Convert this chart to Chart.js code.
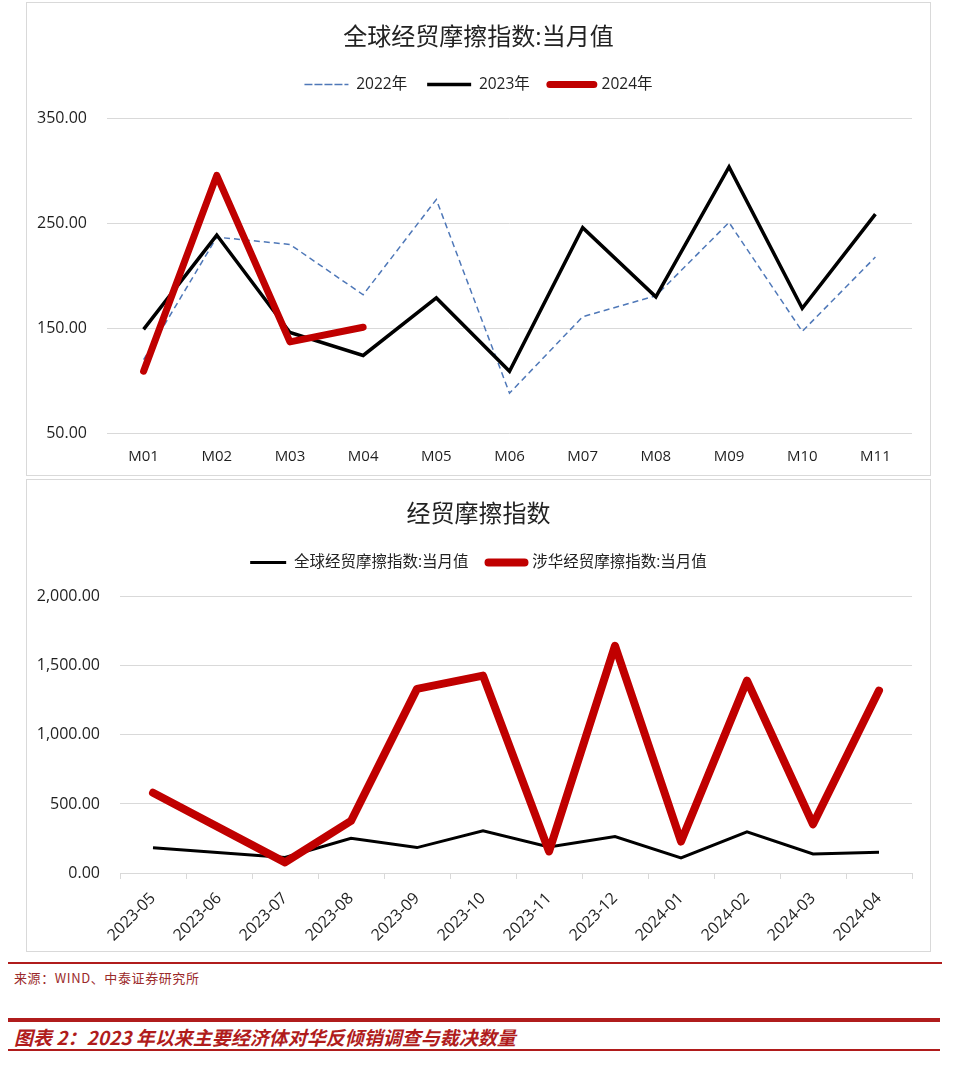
<!DOCTYPE html>
<html>
<head>
<meta charset="utf-8">
<script src="https://cdn.jsdelivr.net/npm/chart.js@4.4.1/dist/chart.umd.min.js"></script>
<style>
  body { margin: 0; background: #fff; width: 969px; height: 1065px; position: relative; overflow: hidden; }
  .panel { position: absolute; left: 26px; width: 905px; border: 1px solid #d9d9d9; box-sizing: border-box; background: #fff; }
  .rule { position: absolute; left: 8px; background: #b01c1c; }
  .src { position: absolute; left: 14px; top: 968px; font: 13px "Noto Sans CJK SC", sans-serif; color: #9b2a2a; letter-spacing: 0.6px; }
  .cap { position: absolute; left: 14px; top: 1023px; font: italic bold 19px "Noto Sans CJK SC", sans-serif; color: #b01c1c; }
</style>
</head>
<body>
<div class="panel" style="top:2px;height:474px"><canvas id="topChart" width="903" height="472"></canvas></div>
<div class="panel" style="top:479px;height:473px"><canvas id="bottomChart" width="903" height="471"></canvas></div>
<div class="rule" style="top:962px;width:934px;height:1.5px"></div>
<div class="src">来源：WIND、中泰证券研究所</div>
<div class="rule" style="top:1018px;width:932px;height:4px"></div>
<div class="cap">图表 2：2023 年以来主要经济体对华反倾销调查与裁决数量</div>
<div class="rule" style="top:1049px;width:932px;height:1.5px"></div>
<script>
// top chart data
var months = ["M01", "M02", "M03", "M04", "M05", "M06", "M07", "M08", "M09", "M10", "M11"];
var year2022 = [120, 237, 230, 182, 273, 88, 161, 181, 251, 147, 218];
var year2023 = [149, 239, 146, 124, 179, 109, 246, 180, 304, 169, 259];
var year2024 = [109, 296, 137, 151];

// bottom chart data
var dates = ["2023-05", "2023-06", "2023-07", "2023-08", "2023-09", "2023-10",
    "2023-11", "2023-12", "2024-01", "2024-02", "2024-03", "2024-04"];
var globalIndex = [182, null, 112, 252, 184, 305, 188, 264, 110, 298, 138, 151];
var chinaIndex = [581, null, 77, 377, 1333, 1429, 156, 1645, 228, 1393, 353, 1321];

Chart.defaults.font.family = '"Open Sans", "Noto Sans CJK SC", sans-serif';
Chart.defaults.color = "#1f1f1f";

// extra space under the legend
var legendGap = {
    id: "legendGap",
    beforeInit(chart, args, opts) {
        var legend = chart.legend;
        var fit = legend.fit;
        legend.fit = function () {
            fit.call(this);
            this.height += opts.gap;
        };
    }
};

var makeLegend = (boxWidth) => ({
    reverse: true,
    labels: { boxWidth: boxWidth, boxHeight: 0, padding: 20, color: "#222", font: { size: 15.5 } }
});

// empty right axis, keeps the plot off the right edge while title/legend stay centred
var rightSpacer = {
    position: "right",
    display: true,
    grid: { display: false, drawTicks: false },
    ticks: { display: false },
    border: { display: false },
    afterFit: s => { s.width = 18; }
};

var displayTopChart = () => {
    var ctx = document.getElementById("topChart").getContext("2d");
    new Chart(ctx, {
        type: "line",
        data: {
            labels: months,
            datasets: [{
                label: "2022年",
                data: year2022,
                borderColor: "#4f78b8",
                backgroundColor: "#4f78b8",
                borderWidth: 1.5,
                borderDash: [6, 4],
                pointRadius: 0,
                order: 2
            }, {
                label: "2023年",
                data: year2023,
                borderColor: "#000",
                backgroundColor: "#000",
                borderWidth: 3.5,
                pointRadius: 0,
                order: 1
            }, {
                label: "2024年",
                data: year2024,
                borderColor: "#c00000",
                backgroundColor: "#c00000",
                borderWidth: 7,
                borderCapStyle: "round",
                borderJoinStyle: "round",
                pointRadius: 0,
                order: 0
            }]
        },
        options: {
            responsive: false,
            animation: false,
            layout: { padding: { left: 0, right: 0, top: 0, bottom: 9 } },
            plugins: {
                title: { display: true, text: "全球经贸摩擦指数:当月值", color: "#222",
                    font: { size: 24, weight: "normal" }, padding: { top: 21, bottom: 4 } },
                legend: makeLegend(44),
                legendGap: { gap: 16.5 },
                tooltip: { enabled: false }
            },
            scales: {
                x: {
                    offset: true,
                    grid: { display: false, drawTicks: false },
                    border: { display: false },
                    ticks: { font: { size: 15 }, padding: 15 },
                    afterFit: s => { s.height = 33; }
                },
                y: {
                    min: 50, max: 350,
                    ticks: { stepSize: 100, font: { size: 16 }, padding: 20,
                        callback: v => v.toFixed(2) },
                    grid: { color: "#d9d9d9", drawTicks: false },
                    border: { display: false },
                    afterFit: s => { s.width = 80; }
                },
                spacer: rightSpacer
            }
        },
        plugins: [legendGap]
    });
};

var displayBottomChart = () => {
    var ctx = document.getElementById("bottomChart").getContext("2d");
    new Chart(ctx, {
        type: "line",
        data: {
            labels: dates,
            datasets: [{
                label: "全球经贸摩擦指数:当月值",
                data: globalIndex,
                borderColor: "#000",
                backgroundColor: "#000",
                borderWidth: 3,
                pointRadius: 0,
                spanGaps: true,
                order: 1
            }, {
                label: "涉华经贸摩擦指数:当月值",
                data: chinaIndex,
                borderColor: "#c00000",
                backgroundColor: "#c00000",
                borderWidth: 8,
                borderCapStyle: "round",
                borderJoinStyle: "round",
                pointRadius: 0,
                spanGaps: true,
                order: 0
            }]
        },
        options: {
            responsive: false,
            animation: false,
            layout: { padding: { left: 0, right: 0, top: 0, bottom: 4 } },
            plugins: {
                title: { display: true, text: "经贸摩擦指数", color: "#222",
                    font: { size: 24, weight: "normal" }, padding: { top: 21, bottom: 5 } },
                legend: makeLegend(36),
                legendGap: { gap: 16.5 },
                tooltip: { enabled: false }
            },
            scales: {
                x: {
                    offset: true,
                    grid: { display: true, drawOnChartArea: false, offset: true, tickLength: 6, color: "#d9d9d9" },
                    border: { color: "#d9d9d9" },
                    ticks: { font: { size: 16 }, maxRotation: 45, minRotation: 45, padding: 10 },
                    afterFit: s => { s.height = 74; }
                },
                y: {
                    min: 0, max: 2000,
                    ticks: { stepSize: 500, font: { size: 16 }, padding: 20,
                        callback: v => v.toLocaleString("en-US", { minimumFractionDigits: 2, maximumFractionDigits: 2 }) },
                    grid: { color: "#d9d9d9", drawTicks: false },
                    border: { display: false },
                    afterFit: s => { s.width = 93; }
                },
                spacer: rightSpacer
            }
        },
        plugins: [legendGap]
    });
};

displayTopChart();
displayBottomChart();
</script>
</body>
</html>
